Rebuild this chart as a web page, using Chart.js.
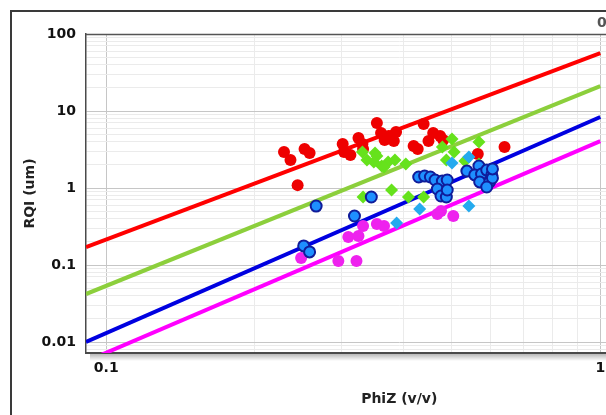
<!DOCTYPE html>
<html>
<head>
<meta charset="utf-8">
<script src="https://cdn.jsdelivr.net/npm/chart.js@4.4.0/dist/chart.umd.min.js"></script>
<style>
  html, body { margin: 0; padding: 0; overflow: hidden; background: #fff; }
  #wrap { width: 606px; height: 415px; overflow: hidden; position: relative; }
  canvas { display: block; }
</style>
</head>
<body>
<div id="wrap"><canvas id="chart" width="720" height="415"></canvas></div>
<script>
// tick labels (only the decades carry text)
const yTickLabels = ["0.01", "0.1", "1", "10", "100"];
const xTickLabels = ["0.1", "1"];
const cornerLabel = "0";

// samples: [PhiZ, RQI]
const redPts = [
  [0.229, 2.94], [0.236, 2.31], [0.252, 3.21], [0.258, 2.85], [0.244, 1.09],
  [0.301, 3.73], [0.303, 2.94], [0.312, 2.69], [0.324, 4.46], [0.330, 3.73],
  [0.331, 3.21], [0.353, 6.98], [0.360, 5.18], [0.366, 4.20], [0.373, 4.73],
  [0.382, 4.08], [0.386, 5.33], [0.419, 3.51], [0.427, 3.21], [0.439, 6.78],
  [0.449, 4.08], [0.459, 5.18], [0.474, 4.73], [0.481, 4.20], [0.565, 2.77],
  [0.640, 3.41]
];
const greenPts = [
  [0.330, 2.94], [0.337, 2.31], [0.350, 2.85], [0.353, 2.61], [0.361, 1.93],
  [0.372, 2.18], [0.384, 2.31], [0.365, 1.87], [0.404, 2.05], [0.331, 0.764],
  [0.378, 0.942], [0.409, 0.764], [0.439, 0.764], [0.479, 3.41], [0.501, 4.33],
  [0.506, 2.94], [0.488, 2.31], [0.532, 2.24], [0.537, 1.66], [0.568, 3.95],
  [0.568, 2.05], [0.348, 2.18]
];
const bluePts = [
  [0.251, 0.177], [0.258, 0.148], [0.266, 0.583], [0.318, 0.433], [0.344, 0.764],
  [0.429, 1.39], [0.441, 1.43], [0.453, 1.39], [0.463, 1.27], [0.479, 1.23],
  [0.490, 1.27], [0.468, 0.97], [0.476, 0.787], [0.488, 0.764], [0.490, 0.942],
  [0.537, 1.66], [0.568, 1.93], [0.557, 1.48], [0.575, 1.52], [0.589, 1.71],
  [0.603, 1.48], [0.570, 1.20], [0.597, 1.20], [0.605, 1.35], [0.589, 1.03],
  [0.605, 1.77]
];
const cyanPts = [
  [0.501, 2.11], [0.542, 2.53], [0.542, 0.583], [0.431, 0.533], [0.387, 0.351]
];
const pinkPts = [
  [0.248, 0.123], [0.295, 0.113], [0.321, 0.113], [0.309, 0.231], [0.324, 0.238],
  [0.331, 0.321], [0.353, 0.340], [0.365, 0.321], [0.468, 0.459], [0.504, 0.433],
  [0.476, 0.502]
];

// the four trend lines, end points [PhiZ, RQI]
const redLine = [[0.091, 0.171], [1.0, 56.6]];
const greenLine = [[0.091, 0.042], [1.0, 21.1]];
const blueLine = [[0.091, 0.0100], [1.0, 8.36]];
const pinkLine = [[0.091, 0.0056], [1.0, 4.07]];

const xMin = 0.091, xMax = 1.687;
const yMin = 0.0072, yMax = 100;

function toXY(arr) {
  return arr.map(p => ({ x: p[0], y: p[1] }));
}

function isDecade(v) {
  const l = Math.log10(v);
  return Math.abs(l - Math.round(l)) < 1e-9;
}

// grid values 1..9 per decade inside the range
function logGrid(min, max) {
  const out = [];
  for (let e = Math.floor(Math.log10(min)); e <= Math.ceil(Math.log10(max)); e++) {
    for (let m = 1; m <= 9; m++) {
      const v = Number((m * Math.pow(10, e)).toPrecision(3));
      if (v >= min && v <= max) out.push(v);
    }
  }
  return out;
}

function tickText(labels) {
  return function (v) {
    const s = String(Number(v.toPrecision(3)));
    return labels.includes(s) && isDecade(v) ? s : "";
  };
}

const framePlugin = {
  id: "frame",
  beforeDraw(chart) {
    const ctx = chart.ctx;
    ctx.save();
    ctx.fillStyle = "#fff";
    ctx.fillRect(0, 0, chart.width, chart.height);
    ctx.strokeStyle = "#3a3a3a";
    ctx.lineWidth = 2;
    ctx.strokeRect(11, 11, 900, 600);
    ctx.restore();
  },
  afterDraw(chart) {
    const ctx = chart.ctx;
    const a = chart.chartArea;
    ctx.save();
    // top border of the plot
    ctx.strokeStyle = "#555";
    ctx.lineWidth = 1.5;
    ctx.beginPath();
    ctx.moveTo(a.left, a.top + 0.5);
    ctx.lineTo(a.right, a.top + 0.5);
    ctx.stroke();
    // soft shadow under the x axis
    const g = ctx.createLinearGradient(0, a.bottom + 1, 0, a.bottom + 8);
    g.addColorStop(0, "rgba(0,0,0,0.28)");
    g.addColorStop(1, "rgba(0,0,0,0)");
    ctx.fillStyle = g;
    ctx.fillRect(a.left + 4, a.bottom + 1, a.right - a.left, 7);
    // corner text in the header band
    ctx.fillStyle = "#555";
    ctx.font = "bold 14px 'DejaVu Sans'";
    ctx.textBaseline = "middle";
    ctx.textAlign = "left";
    ctx.fillText(cornerLabel, 597, 23);
    ctx.restore();
  }
};

const tickFont = { family: "'DejaVu Sans', Verdana, sans-serif", size: 14, weight: "bold" };

new Chart(document.getElementById("chart"), {
  type: "scatter",
  data: {
    datasets: [
      { type: "line", data: toXY(redLine), borderColor: "#ff0000", borderWidth: 4, pointRadius: 0, order: 10 },
      { type: "line", data: toXY(greenLine), borderColor: "#8ccf3c", borderWidth: 4, pointRadius: 0, order: 10 },
      { type: "line", data: toXY(blueLine), borderColor: "#0000e0", borderWidth: 4, pointRadius: 0, order: 10 },
      { type: "line", data: toXY(pinkLine), borderColor: "#ff00ff", borderWidth: 4, pointRadius: 0, order: 10 },
      { data: toXY(redPts), pointStyle: "circle", pointRadius: 6, backgroundColor: "#ee0000", borderColor: "#ee0000", borderWidth: 0, order: 5 },
      { data: toXY(greenPts), pointStyle: "rectRot", pointRadius: 6.5, backgroundColor: "#66e21c", borderColor: "#66e21c", borderWidth: 0, order: 4 },
      { data: toXY(pinkPts), pointStyle: "circle", pointRadius: 6, backgroundColor: "#ee22ee", borderColor: "#ee22ee", borderWidth: 0, order: 3 },
      { data: toXY(cyanPts), pointStyle: "rectRot", pointRadius: 6.5, backgroundColor: "#25aaee", borderColor: "#25aaee", borderWidth: 0, order: 2 },
      { data: toXY(bluePts), pointStyle: "circle", pointRadius: 5.5, backgroundColor: "#1e8fff", borderColor: "#101c9a", borderWidth: 2, order: 1 }
    ]
  },
  options: {
    responsive: false,
    animation: false,
    layout: { padding: { top: 34, left: 0, right: 0, bottom: 0 } },
    plugins: {
      legend: { display: false },
      tooltip: { enabled: false }
    },
    scales: {
      x: {
        type: "logarithmic",
        min: xMin,
        max: xMax,
        afterBuildTicks: s => { s.ticks = logGrid(xMin, xMax).map(v => ({ value: v })); },
        afterFit: s => { s.height = 62; },
        ticks: {
          autoSkip: false,
          maxRotation: 0,
          padding: 7,
          color: "#111",
          font: tickFont,
          callback: tickText(xTickLabels)
        },
        grid: {
          drawTicks: false,
          color: c => (c.tick && isDecade(c.tick.value) ? "#c6c6c6" : "#ebebeb"),
          lineWidth: 1
        },
        border: { display: true, color: "#4a4a4a", width: 2 },
        title: {
          display: true,
          text: "PhiZ (v/v)",
          color: "#222",
          font: { family: "'DejaVu Sans', Verdana, sans-serif", size: 14, weight: "bold" },
          padding: { top: 0, bottom: 7 }
        }
      },
      y: {
        type: "logarithmic",
        min: yMin,
        max: yMax,
        afterBuildTicks: s => { s.ticks = logGrid(yMin, yMax).map(v => ({ value: v })); },
        afterFit: s => { s.width = 86; },
        ticks: {
          autoSkip: false,
          padding: 10,
          color: "#111",
          font: tickFont,
          callback: tickText(yTickLabels)
        },
        grid: {
          drawTicks: false,
          color: c => (c.tick && isDecade(c.tick.value) ? "#c6c6c6" : "#ebebeb"),
          lineWidth: 1
        },
        border: { display: true, color: "#4a4a4a", width: 1.5 },
        title: {
          display: true,
          text: "RQI (um)",
          color: "#222",
          font: { family: "'DejaVu Sans', Verdana, sans-serif", size: 14, weight: "bold" },
          padding: { top: 22, bottom: 0 }
        }
      }
    }
  },
  plugins: [framePlugin]
});
</script>
</body>
</html>
